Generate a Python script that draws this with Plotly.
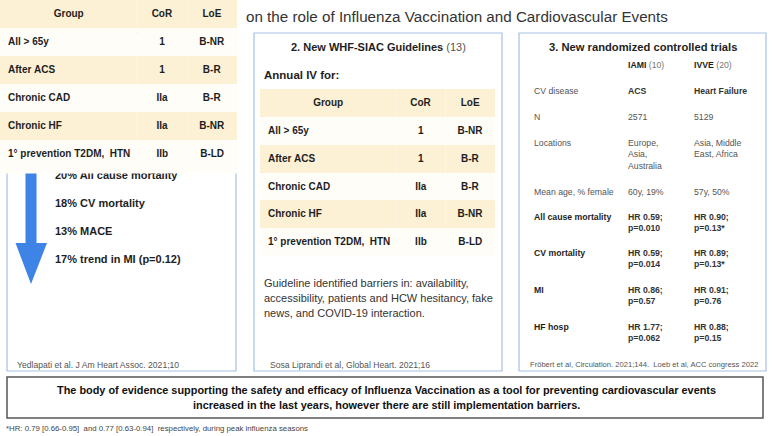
import plotly.graph_objects as go

W, H = 774, 436

# ── Data ─────────────────────────────────────────────────────────────────────
TITLE = "on the role of Influenza Vaccination and Cardiovascular Events"

TABLE_HEADER = ["Group", "CoR", "LoE"]
GROUPS = ["All > 65y", "After ACS", "Chronic CAD", "Chronic HF", "1° prevention T2DM,  HTN"]
COR = ["1", "1", "IIa", "IIa", "IIb"]
LOE = ["B-NR", "B-R", "B-R", "B-NR", "B-LD"]

REDUCTIONS = ["20% All cause mortality", "18% CV mortality", "13% MACE",
              "17% trend in MI (p=0.12)"]

PANEL2_TITLE = ("2. New WHF-SIAC Guidelines", "(13)")
PANEL2_SUB = "Annual IV for:"
BARRIERS = ["Guideline identified barriers in: availability,",
            "accessibility, patients and HCW hesitancy, fake",
            "news, and COVID-19 interaction."]

PANEL3_TITLE = "3. New randomized controlled trials"
TRIALS = [("IAMI", "(10)"), ("IVVE", "(20)")]
RCT_ROWS = ["CV disease", "N", "Locations", "Mean age, % female",
            "All cause mortality", "CV mortality", "MI", "HF hosp"]
IAMI = ["ACS", "2571", "Europe,<br>Asia,<br>Australia", "60y, 19%",
        "HR 0.59;<br>p=0.010", "HR 0.59;<br>p=0.014", "HR 0.86;<br>p=0.57",
        "HR 1.77;<br>p=0.062"]
IVVE = ["Heart Failure", "5129", "Asia, Middle<br>East, Africa", "57y, 50%",
        "HR 0.90;<br>p=0.13*", "HR 0.89;<br>p=0.13*", "HR 0.91;<br>p=0.76",
        "HR 0.88;<br>p=0.15"]

CITES = ["Yedlapati et al. J Am Heart Assoc. 2021;10",
         "Sosa Liprandi et al, Global Heart. 2021;16",
         "Fröbert et al, Circulation. 2021;144.  Loeb et al, ACC congress 2022"]

CONCLUSION = ["The body of evidence supporting the safety and efficacy of Influenza "
              "Vaccination as a tool for preventing cardiovascular events",
              "increased in the last years, however there are still implementation barriers."]
FOOTNOTE = "*HR: 0.79 [0.66-0.95]  and 0.77 [0.63-0.94]  respectively, during peak influenza seasons"

# ── Style ────────────────────────────────────────────────────────────────────
_FONT = "Liberation Sans, Arial, sans-serif"
_BEIGE = "#FCF0D5"
_WHITE = "#FFFDF8"
_BOX = "#A6C1E6"
_BLUE = "#3D84E6"
_TXT = "#1E1E1E"
_GREY = "#555555"

# panel 3 layout: first-line centre of each row
ROW_Y = [91, 117, 143, 192, 217, 253, 290, 327]


def _dom_x(x0, x1):
    return [x0 / W, x1 / W]


def _dom_y(y0, y1):
    return [1 - y1 / H, 1 - y0 / H]


def _nb(s):
    # keep table cells on one line
    return s.replace(" ", "\u00a0")


def guideline_table(x0, x1, y0, header_h, cell_h):
    fills = [_WHITE if i % 2 == 0 else _BEIGE for i in range(len(GROUPS))]
    return go.Table(
        domain=dict(x=_dom_x(x0, x1), y=_dom_y(y0, y0 + header_h + cell_h * len(GROUPS) + 1)),
        columnwidth=[138, 50, 50],
        header=dict(
            values=[f"<b>{h}</b>" for h in TABLE_HEADER],
            fill_color=_BEIGE, line=dict(color=_BEIGE, width=0),
            align="center", height=header_h,
            font=dict(family=_FONT, size=10, color=_TXT),
        ),
        cells=dict(
            values=[[f"<b>{_nb(v)}</b>" for v in col] for col in (GROUPS, COR, LOE)],
            fill_color=[fills] * 3, line=dict(color=[fills] * 3, width=0),
            align=["left", "center", "center"], height=cell_h,
            font=dict(family=_FONT, size=10, color=_TXT),
        ),
    )


fig = go.Figure()

# panel 1 findings (plot layer, so the overlaid table hides part of the first one)
fig.add_trace(go.Scatter(
    x=[55] * len(REDUCTIONS),
    y=[176 + 28 * i for i in range(len(REDUCTIONS))],
    mode="text",
    text=[f"<b>{r}</b>" for r in REDUCTIONS],
    textposition="middle right",
    textfont=dict(family=_FONT, size=11, color=_TXT),
    hoverinfo="skip", showlegend=False,
))

fig.add_trace(guideline_table(0, 238, 0, 28, 28.1))
fig.add_trace(guideline_table(260, 496, 89, 28, 27.8))

shapes = [
    dict(type="rect", x0=7, x1=236, y0=33, y1=371, line=dict(color=_BOX, width=1.2), layer="below"),
    dict(type="rect", x0=254, x1=502, y0=33, y1=371, line=dict(color=_BOX, width=1.2), layer="below"),
    dict(type="rect", x0=519, x1=766, y0=33, y1=371, line=dict(color=_BOX, width=1.2), layer="below"),
    dict(type="rect", x0=7, x1=763, y0=377, y1=418, line=dict(color="#555555", width=1.5),
         fillcolor="white", layer="below"),
    # down arrow
    dict(type="path", path="M 25.5 150 L 36.5 150 L 36.5 243 L 47 243 L 31 284 L 15.5 243 L 25.5 243 Z",
         fillcolor=_BLUE, line=dict(width=0), layer="below"),
    # bottom padding of the overlaid table
    dict(type="rect", x0=0, x1=238, y0=166, y1=173.5, fillcolor=_WHITE,
         line=dict(width=0), layer="above"),
]

ann = []


def text(x, y, s, size, color=_TXT, xanchor="left"):
    n = s.count("<br>") + 1
    ann.append(dict(x=x, y=y + (n - 1) * 1.3 * size / 2, text=s, xref="x", yref="y",
                    xanchor=xanchor, yanchor="middle", showarrow=False, align=xanchor,
                    font=dict(family=_FONT, size=size, color=color)))


text(244, 16, TITLE, 15.2, "#333333")

# panel 2
text(378, 47, f"<b>{PANEL2_TITLE[0]}</b> <span style='color:#555'>{PANEL2_TITLE[1]}</span>",
     11, xanchor="center")
text(262, 75, f"<b>{PANEL2_SUB}</b>", 11.5)
for i, line in enumerate(BARRIERS):
    text(262, 283 + 15 * i, line, 11, "#333333")

# panel 3
text(643, 47, f"<b>{PANEL3_TITLE}</b>", 11.2, xanchor="center")
for (name, ref), x in zip(TRIALS, [626, 692]):
    text(x, 65, f"<b>{name}</b> <span style='color:#777'>{ref}</span>", 8.7)
for i, (lab, a, b) in enumerate(zip(RCT_ROWS, IAMI, IVVE)):
    strong = i >= 4
    y = ROW_Y[i]
    text(532, y, f"<b>{lab}</b>" if strong else lab, 8.7, _TXT if strong else _GREY)
    bold_val = strong or i == 0
    for x, v in ((626, a), (692, b)):
        text(x, y, f"<b>{v}</b>" if bold_val else v, 8.7, "#333333" if bold_val else _GREY)

# citations
text(15, 365, CITES[0], 8.6, _GREY)
text(268, 365, CITES[1], 8.6, _GREY)
text(528, 364, CITES[2], 7.6, _GREY)

# conclusion + footnote
for i, line in enumerate(CONCLUSION):
    text(386, 390 + 15 * i, f"<b>{line}</b>", 10.9, "#111111", xanchor="center")
text(4, 428, FOOTNOTE, 7.8, "#444444")

fig.update_layout(
    width=W, height=H,
    margin=dict(l=0, r=0, t=0, b=0),
    paper_bgcolor="white", plot_bgcolor="white",
    xaxis=dict(range=[0, W], visible=False, fixedrange=True),
    yaxis=dict(range=[H, 0], visible=False, fixedrange=True),
    shapes=shapes, annotations=ann,
    showlegend=False,
)

fig.write_html("out.html", config=dict(displayModeBar=False),
               post_script="document.body.style.margin = '0';")
